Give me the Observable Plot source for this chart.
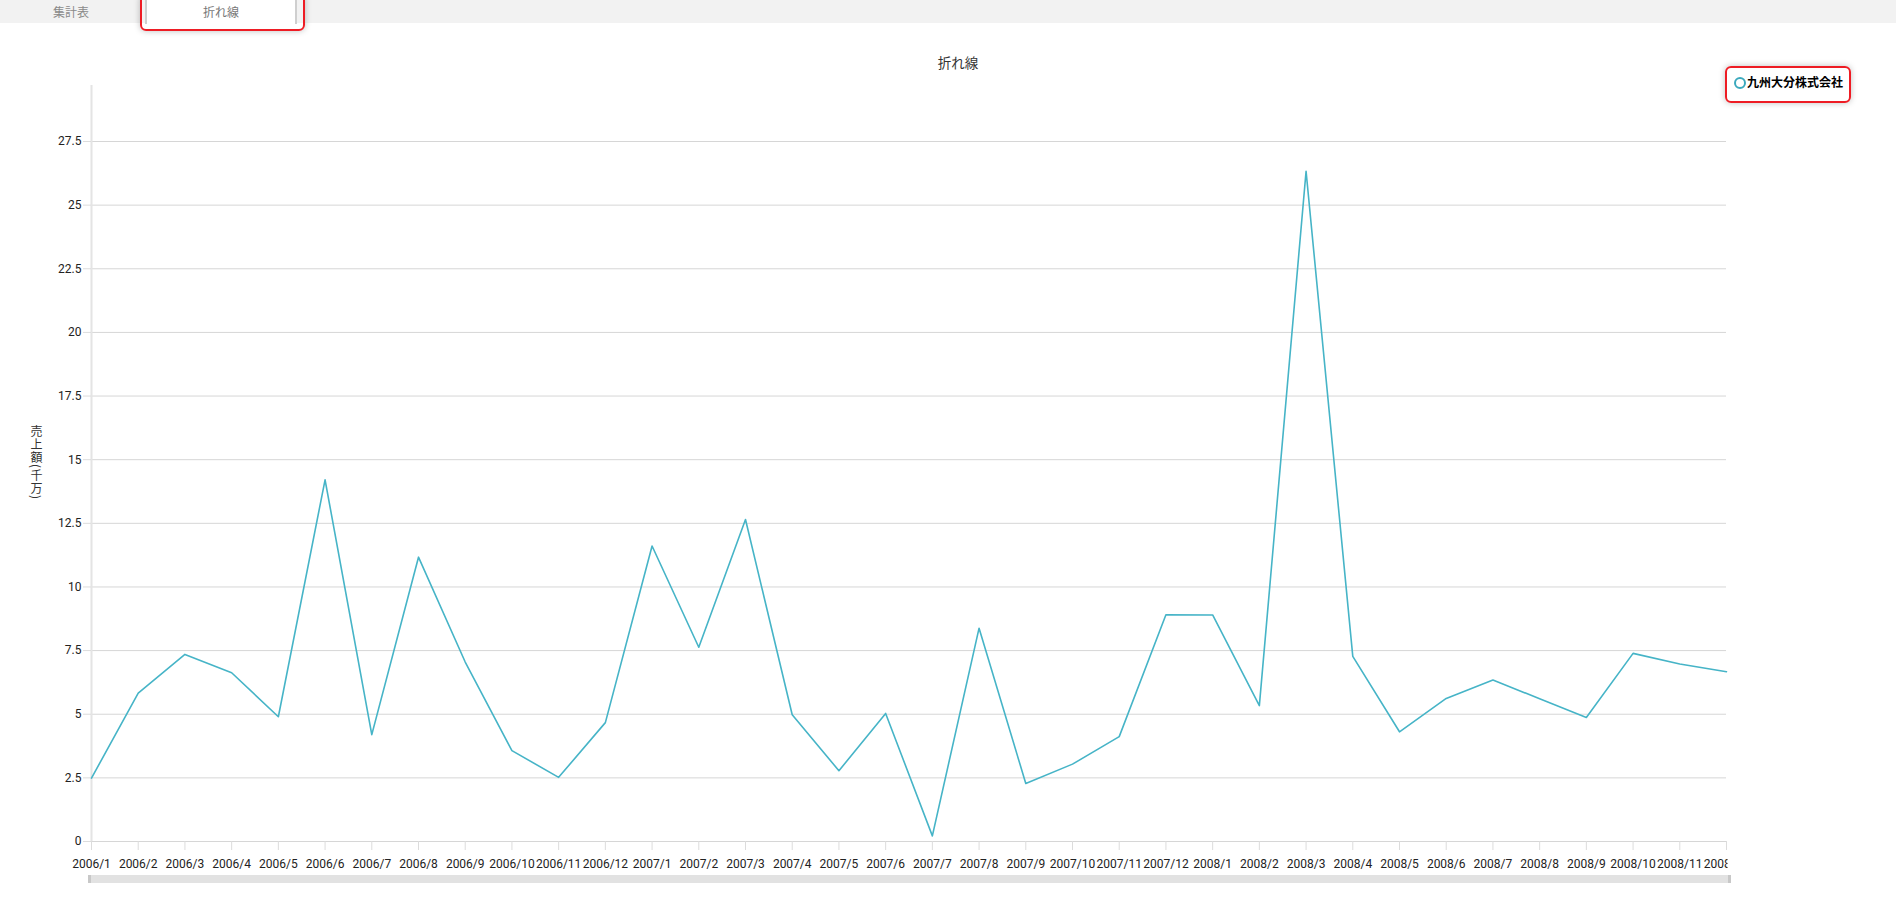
<!DOCTYPE html>
<html>
<head>
<meta charset="utf-8">
<script src="https://cdn.jsdelivr.net/npm/d3@7"></script>
<script src="https://cdn.jsdelivr.net/npm/@observablehq/plot@0.6"></script>
<style>
  html, body { margin: 0; padding: 0; background: #fff; overflow: hidden; width: 1896px; height: 900px; }
  body { position: relative; font-family: Roboto, "Noto Sans CJK JP", sans-serif; }
  #tabbar { position: absolute; left: 0; top: 0; width: 1896px; height: 23px; background: #f2f2f2; }
  .tab { position: absolute; top: 0; height: 23px; line-height: 23px; font-size: 12px; text-align: center; font-family: "Noto Sans CJK JP", sans-serif; }
  #tab1 { left: 36px; width: 70px; color: #8a8a8a; }
  #tab2 { left: 145px; width: 148px; height: 24px; background: #fff; color: #777; border-left: 2px solid #cfcfcf; border-right: 2px solid #cfcfcf; }
  #tabhl { position: absolute; left: 140px; top: -6px; width: 161px; height: 33px; border: 2px solid #ee1c24; border-radius: 6px; box-shadow: 0 0 6px rgba(0,0,0,0.25); }
  #chart { position: absolute; left: 0; top: 24px; }
  #title { position: absolute; left: 858px; width: 200px; top: 52px; text-align: center; font-size: 13.5px; color: #333; font-family: "Noto Sans CJK JP", sans-serif; }
  #legend { position: absolute; left: 1725px; top: 66px; width: 122px; height: 33px; border: 2px solid #ee1c24; border-radius: 6px; box-shadow: 0 0 6px rgba(0,0,0,0.25); }
  #legend .dot { position: absolute; left: 7px; top: 9px; width: 8px; height: 8px; border: 2px solid #3ba9bd; border-radius: 50%; }
  #legend .txt { position: absolute; left: 20px; top: 6px; font-size: 12px; font-weight: bold; color: #000; font-family: "Noto Sans CJK JP", sans-serif; line-height: 16px; white-space: nowrap; }
  #ylabel { position: absolute; left: 29px; top: 425px; writing-mode: vertical-rl; text-orientation: mixed; font-size: 12px; letter-spacing: 1px; line-height: 14px; color: #333; font-family: "Noto Sans CJK JP", sans-serif; white-space: nowrap; }
  #scroll { position: absolute; left: 88px; top: 875px; width: 1643px; height: 8px; background: #e2e2e2; }
  #scroll .l { position: absolute; left: 0; top: 0; width: 3px; height: 8px; background: #c8c8c8; }
  #scroll .r { position: absolute; right: 0; top: 0; width: 3px; height: 8px; background: #c8c8c8; }
</style>
</head>
<body>
<div id="tabbar"></div>
<div class="tab" id="tab1">集計表</div>
<div class="tab" id="tab2">折れ線</div>
<div id="tabhl"></div>
<div id="chart"></div>
<div id="title">折れ線</div>
<div id="legend"><div class="dot"></div><div class="txt"></div></div>
<div id="ylabel"></div>
<div id="scroll"><div class="l"></div><div class="r"></div></div>
<script>
const months = [
  "2006/1","2006/2","2006/3","2006/4","2006/5","2006/6","2006/7","2006/8","2006/9","2006/10","2006/11","2006/12",
  "2007/1","2007/2","2007/3","2007/4","2007/5","2007/6","2007/7","2007/8","2007/9","2007/10","2007/11","2007/12",
  "2008/1","2008/2","2008/3","2008/4","2008/5","2008/6","2008/7","2008/8","2008/9","2008/10","2008/11","2008/12"
];
const sales = [
  2.49, 5.83, 7.35, 6.63, 4.90, 14.21, 4.20, 11.17, 7.05, 3.57, 2.52, 4.67,
  11.61, 7.63, 12.65, 4.98, 2.78, 5.03, 0.22, 8.38, 2.28, 3.04, 4.12, 8.91,
  8.90, 5.34, 26.33, 7.27, 4.31, 5.62, 6.34, 5.61, 4.87, 7.39, 6.97, 6.67
];
const yTicks = [0, 2.5, 5, 7.5, 10, 12.5, 15, 17.5, 20, 22.5, 25, 27.5];
const yMax = 29.7;
const seriesName = "九州大分株式会社";
const yTitle = "売上額(千万)";

document.querySelector("#legend .txt").textContent = seriesName;
document.getElementById("ylabel").textContent = yTitle;

const data = months.map((m, i) => ({month: m, value: sales[i], series: seriesName}));

const chart = Plot.plot({
  width: 1896,
  height: 876,
  marginLeft: 91,
  marginRight: 170,
  marginTop: 61,
  marginBottom: 59,
  style: {fontFamily: "Roboto, sans-serif", fontSize: "12px", color: "#222", background: "transparent"},
  x: {type: "point", domain: months, padding: 0, round: false, label: null},
  y: {domain: [0, yMax], label: null},
  marks: [
    Plot.gridY(yTicks, {stroke: "#d6d6d6", strokeOpacity: 1, strokeWidth: 1}),
    Plot.ruleX([months[0]], {y1: 0, y2: yMax, stroke: "#e4e4e4", strokeWidth: 2}),
    Plot.axisY({ticks: yTicks, tickFormat: d => String(d), tickSize: 8, tickPadding: 2, stroke: "#dcdcdc", strokeOpacity: 1, fill: "#222", label: null}),
    Plot.axisX({tickSize: 9, tickPadding: 9, stroke: "#dcdcdc", strokeOpacity: 1, fill: "#222", label: null}),
    Plot.lineY(data, {x: "month", y: "value", stroke: "#46b4c7", strokeWidth: 1.6})
  ]
});
document.getElementById("chart").appendChild(chart);

// clip x tick labels at the right edge of the chart area (last label is cut in the original)
const ns = "http://www.w3.org/2000/svg";
const defs = document.createElementNS(ns, "defs");
const cp = document.createElementNS(ns, "clipPath");
cp.setAttribute("id", "xlabelclip");
const r = document.createElementNS(ns, "rect");
r.setAttribute("x", 0); r.setAttribute("y", 0); r.setAttribute("width", 1727); r.setAttribute("height", 900);
cp.appendChild(r); defs.appendChild(cp); chart.insertBefore(defs, chart.firstChild);
const lbl = chart.querySelector('g[aria-label="x-axis tick label"]');
if (lbl) lbl.setAttribute("clip-path", "url(#xlabelclip)");
</script>
</body>
</html>
